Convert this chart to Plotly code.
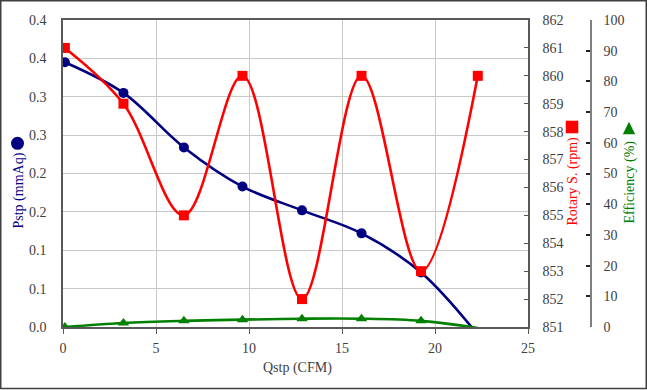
import plotly.graph_objects as go

# ---- data ----
qstp = [0.1, 3.25, 6.5, 9.65, 12.85, 16.05, 19.25, 22.3]
pstp = [0.345, 0.305, 0.234, 0.183, 0.152, 0.122, 0.071, -0.01]
rpm = [861, 859, 855, 860, 852, 860, 853, 860]
eff = [0.0, 1.3, 2.0, 2.4, 2.7, 2.7, 2.0, -0.3]

x_tickvals = [0, 5, 10, 15, 20, 25]
p_tickvals = [0, 0.05, 0.1, 0.15, 0.2, 0.25, 0.3, 0.35, 0.4]
p_ticktext = ["0.0", "0.1", "0.1", "0.2", "0.2", "0.3", "0.3", "0.4", "0.4"]
rpm_tickvals = list(range(851, 863))
eff_tickvals = list(range(0, 101, 10))

# ---- layout geometry (pixels) ----
W, H = 647, 390
L, R, T, B = 63, 20, 20, 63
PW, PH = W - L - R, H - T - B
PLOT_RIGHT = 528
EFF_AXIS_X = 591


def px(xp):
    return (xp - L) / PW


def py(yp):
    return (H - B - yp) / PH


FONT = "Liberation Serif, Times New Roman, serif"
TICKC = "#404040"
NAVY = "#000080"
RED = "#ff0000"
GREEN = "#008000"


def add_series(x, y, axis, color, symbol):
    # smoothed line through all points
    fig.add_trace(go.Scatter(
        x=x, y=y, mode="lines", yaxis=axis,
        line=dict(color=color, width=2.6, shape="spline", smoothing=1.0),
        showlegend=False))
    # markers only for points inside the axis range (others are clipped)
    xm = [a for a, b in zip(x, y) if b >= 0]
    ym = [b for b in y if b >= 0]
    fig.add_trace(go.Scatter(
        x=xm, y=ym, mode="markers", yaxis=axis,
        marker=dict(symbol=symbol, size=10, color=color), showlegend=False))


fig = go.Figure()
add_series(qstp, pstp, "y", NAVY, "circle")
add_series(qstp, rpm, "y2", RED, "square")
add_series(qstp, eff, "y3", GREEN, "triangle-up")

tickfont = dict(family=FONT, size=14, color=TICKC)

fig.update_layout(
    width=W, height=H,
    margin=dict(l=L, r=R, t=T, b=B),
    paper_bgcolor="white", plot_bgcolor="white",
    xaxis=dict(
        domain=[0, px(PLOT_RIGHT)], range=[0, 25], tickvals=x_tickvals,
        showgrid=True, gridcolor="#c8c8c8", gridwidth=1,
        showline=True, linecolor="#595959", linewidth=1.5, mirror=True,
        ticks="outside", ticklen=5, tickcolor="#595959",
        tickfont=tickfont, zeroline=False, ticklabelstandoff=2),
    yaxis=dict(
        range=[0, 0.4], tickvals=p_tickvals, ticktext=p_ticktext,
        showgrid=True, gridcolor="#c8c8c8", gridwidth=1,
        showline=True, linecolor="#595959", linewidth=1.5,
        ticks="", tickfont=tickfont, zeroline=False, ticklabelstandoff=12),
    yaxis2=dict(
        range=[851, 862], tickvals=rpm_tickvals, overlaying="y", side="right",
        anchor="x", showgrid=False, showline=True, linecolor="#595959",
        linewidth=1.5, ticks="inside", ticklen=4, tickcolor="#595959",
        tickfont=tickfont, zeroline=False, ticklabelstandoff=10),
    yaxis3=dict(
        range=[0, 100], tickvals=eff_tickvals, overlaying="y", side="right",
        anchor="free", position=px(EFF_AXIS_X), showgrid=False,
        showline=True, linecolor="#808080", linewidth=1.5,
        ticks="inside", ticklen=4, tickcolor="#202020", tickwidth=1.5,
        tickfont=tickfont, zeroline=False, ticklabelstandoff=9),
)

# axis titles as annotations
titles = [
    ("Pstp (mmAq)", 18, 190.5, NAVY, -90),
    ("Rotary S. (rpm)", 572, 181.5, RED, -90),
    ("Efficiency (%)", 629, 182.5, GREEN, -90),
    ("Qstp (CFM)", 297, 368, TICKC, 0),
]
for text, xp, yp, col, ang in titles:
    fig.add_annotation(
        x=px(xp), y=py(yp), xref="paper", yref="paper", text=text,
        showarrow=False, textangle=ang, xanchor="center", yanchor="middle",
        font=dict(family=FONT, size=14, color=col))

# legend-like symbols beside the titles
fig.add_shape(type="circle", xref="paper", yref="paper",
              xsizemode="pixel", ysizemode="pixel",
              xanchor=px(17.5), yanchor=py(143.3),
              x0=-6.5, x1=6.5, y0=-6.5, y1=6.5,
              fillcolor=NAVY, line=dict(width=0))
fig.add_shape(type="rect", xref="paper", yref="paper",
              xsizemode="pixel", ysizemode="pixel",
              xanchor=px(572), yanchor=py(127),
              x0=-6.3, x1=6.3, y0=-6.3, y1=6.3,
              fillcolor=RED, line=dict(width=0))
fig.add_shape(type="path", xref="paper", yref="paper",
              xsizemode="pixel", ysizemode="pixel",
              xanchor=px(629), yanchor=py(128),
              path="M -6.2 -6.3 L 6.2 -6.3 L 0 6.3 Z",
              fillcolor=GREEN, line=dict(width=0))

# outer border
fig.add_shape(type="rect", xref="paper", yref="paper",
              x0=px(0.75), x1=px(646.25), y0=py(388.5), y1=py(0.75),
              line=dict(color="#404040", width=1.5), fillcolor="rgba(0,0,0,0)",
              layer="above")

fig.write_html(
    "out.html",
    config={"displayModeBar": False},
    post_script="document.body.style.margin='0';"
                "document.body.style.overflow='hidden';",
)
